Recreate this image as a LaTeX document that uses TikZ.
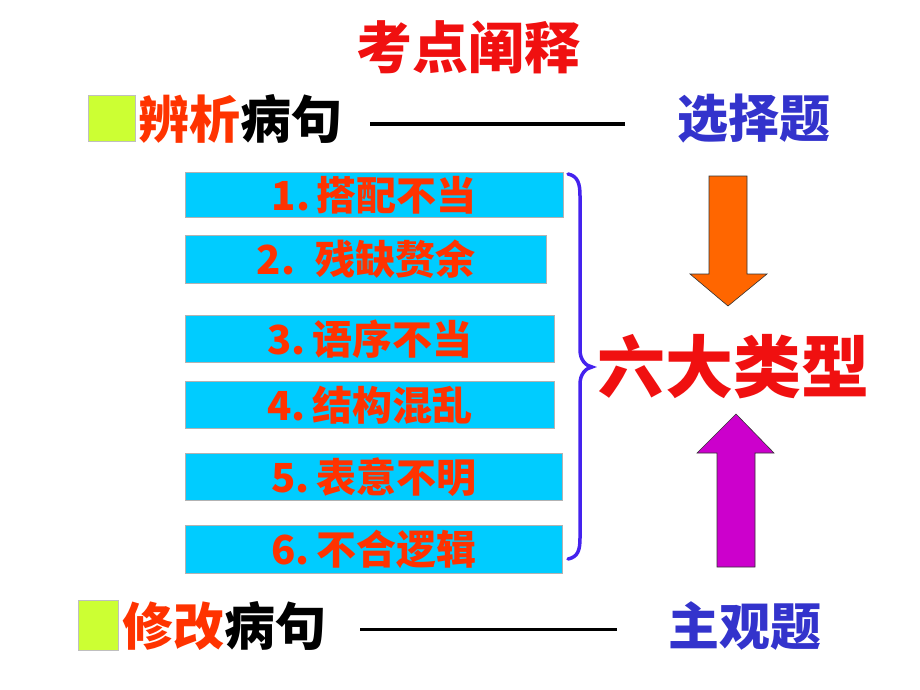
\documentclass[tikz,border=0pt]{standalone}
\usepackage{fontspec}
\setmainfont{Noto Sans CJK SC}
\definecolor{rorange}{HTML}{FF3300}
\definecolor{tred}{HTML}{F01010}
\definecolor{tblue}{HTML}{3333CC}
\definecolor{cyanbox}{HTML}{00CCFF}
\definecolor{lime}{HTML}{CCFF33}
\definecolor{bracec}{HTML}{4422EE}
\definecolor{arrorange}{HTML}{FF6600}
\definecolor{arrpurple}{HTML}{CC00CC}
\tikzset{
  item/.style={fill=cyanbox, draw=black!30, line width=0.8pt, inner sep=0pt, text=rorange, font=\bfseries\fontsize{40}{42}\selectfont},
  sq/.style={fill=lime, draw=black!25, line width=0.6pt, inner sep=0pt},
  rowtext/.style={anchor=west, inner sep=0pt, font=\bfseries\fontsize{51}{54}\selectfont},
  dashline/.style={line width=3pt, black},
  blockarrow/.style={draw=black!80, line width=0.6pt}
}
\begin{document}
\begin{tikzpicture}[x=1pt,y=-1pt]
\useasboundingbox (0,0) rectangle (920,690);
% title
\node[inner sep=0pt, text=tred, font=\bfseries\fontsize{56}{58}\selectfont] (title) at (468,47) {考点阐释};
% row 1
\node[sq, minimum width=47pt, minimum height=46pt, anchor=north west] (sq1) at (88,95) {};
\node[rowtext] (r1) at (138,119) {\textcolor{rorange}{辨析}病句};
\coordinate (l1s) at (370,124);
\coordinate (l1e) at (625,124);
\draw[dashline] (l1s) -- (l1e);
\node[inner sep=0pt, text=tblue, font=\bfseries\fontsize{51}{53}\selectfont] (q1) at (754,119) {选择题};
% boxes
\node[item, minimum width=378pt, minimum height=45pt, anchor=north west] (b1) at (185,172) {1.\,搭配不当};
\node[item, minimum width=361pt, minimum height=48pt, anchor=north west] (b2) at (185,235) {2.\enspace 残缺赘余};
\node[item, minimum width=369pt, minimum height=47pt, anchor=north west] (b3) at (185,315) {3.\,语序不当};
\node[item, minimum width=369pt, minimum height=47pt, anchor=north west] (b4) at (185,381) {4.\,结构混乱};
\node[item, minimum width=377pt, minimum height=47pt, anchor=north west] (b5) at (185,453) {5.\,表意不明};
\node[item, minimum width=377pt, minimum height=48pt, anchor=north west] (b6) at (185,525) {6.\,不合逻辑};
% brace
\coordinate (bt) at (568,174);
\coordinate (bm) at (592,367);
\coordinate (bb) at (568,559);
\draw[bracec, line width=3.5pt, line cap=round]
  (bt) .. controls (578,176) and (580,184) .. (580,196)
  -- (580,350) .. controls (580,360) and (586,366) .. (bm)
  .. controls (586,368) and (580,374) .. (580,384)
  -- (580,538) .. controls (580,550) and (578,557) .. (bb);
% six types
\node[inner sep=0pt, text=tred, font=\bfseries\fontsize{68}{70}\selectfont] (six) at (733,367) {六大类型};
% arrows
\draw[blockarrow, fill=arrorange] (709,176) -- (747,176) -- (747,274) -- (767,274) -- (728,306) -- (690,274) -- (709,274) -- cycle;
\draw[blockarrow, fill=arrpurple] (736,414) -- (774,453) -- (755,453) -- (755,567) -- (717,567) -- (717,453) -- (697,453) -- cycle;
% row 2
\node[sq, minimum width=40pt, minimum height=50pt, anchor=north west] (sq2) at (78,600) {};
\node[rowtext] (r2) at (122,626) {\textcolor{rorange}{修改}病句};
\coordinate (l2s) at (360,629);
\coordinate (l2e) at (617,629);
\draw[dashline] (l2s) -- (l2e);
\node[inner sep=0pt, text=tblue, font=\bfseries\fontsize{51}{53}\selectfont] (q2) at (745,626) {主观题};
\end{tikzpicture}
\end{document}
